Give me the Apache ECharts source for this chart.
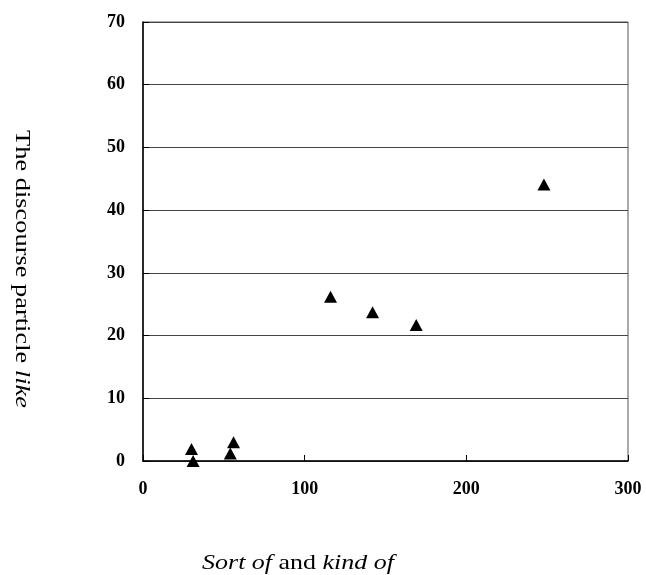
<!DOCTYPE html>
<html><head><meta charset="utf-8">
<script src="https://cdn.jsdelivr.net/npm/echarts@6/dist/echarts.min.js"></script>
<style>html,body{margin:0;padding:0;background:#fff}#c{width:646px;height:575px}</style>
</head><body><div id="c"></div>
<script>
const xValues = [30, 31, 54, 56, 116, 142, 169, 248];
const yValues = [1.9, 0, 1.2, 3.0, 26.2, 23.7, 21.7, 44.1];
const xTicks = [0, 100, 200, 300];
const yTicks = [0, 10, 20, 30, 40, 50, 60, 70];
const yTitle = ['The discourse particle ', 'like'];
const xTitle = ['Sort of', ' and ', 'kind of'];

const chart = echarts.init(document.getElementById('c'));
const serif = '"Liberation Serif", "DejaVu Serif", serif';
chart.setOption({
  animation: false,
  backgroundColor: '#fff',
  grid: { left: 143, right: 18, top: 22, bottom: 114, show: true, borderColor: '#555', borderWidth: 1 },
  xAxis: {
    type: 'value', min: xTicks[0], max: xTicks[xTicks.length-1], interval: 100,
    axisLine: { show: true, lineStyle: { color: '#000', width: 1.5 } },
    axisTick: { show: true, inside: true, length: 6, lineStyle: { color: '#000' } },
    splitLine: { show: false },
    axisLabel: { color: '#000', fontFamily: serif, fontWeight: 'bold', fontSize: 18, margin: 19 }
  },
  yAxis: {
    type: 'value', min: yTicks[0], max: yTicks[yTicks.length-1], interval: 10,
    axisLine: { show: true, lineStyle: { color: '#000', width: 1.5 } },
    axisTick: { show: true, inside: true, length: 6, lineStyle: { color: '#000' } },
    splitLine: { show: true, lineStyle: { color: '#444', width: 1.2 } },
    axisLabel: { color: '#000', fontFamily: serif, fontWeight: 'bold', fontSize: 18, margin: 18 }
  },
  series: [{
    type: 'scatter',
    symbol: 'triangle',
    symbolSize: [13, 12],
    itemStyle: { color: '#000', opacity: 1 },
    data: xValues.map((x, i) => [x, yValues[i]])
  }],
  graphic: [
    {
      type: 'text', x: 21, y: 269, rotation: -Math.PI / 2, scaleX: 1.32,
      style: {
        text: '{n|' + yTitle[0] + '}{i|' + yTitle[1] + '}',
        align: 'center', verticalAlign: 'middle',
        rich: {
          n: { fontFamily: serif, fontSize: 20, fill: '#000' },
          i: { fontFamily: serif, fontSize: 20, fontStyle: 'italic', fill: '#000' }
        }
      }
    },
    {
      type: 'text', x: 298, y: 563, scaleX: 1.18,
      style: {
        text: '{i|' + xTitle[0] + '}{n|' + xTitle[1] + '}{i|' + xTitle[2] + '}',
        align: 'center', verticalAlign: 'middle',
        rich: {
          n: { fontFamily: serif, fontSize: 22, fill: '#000' },
          i: { fontFamily: serif, fontSize: 22, fontStyle: 'italic', fill: '#000' }
        }
      }
    }
  ]
});
</script></body></html>
